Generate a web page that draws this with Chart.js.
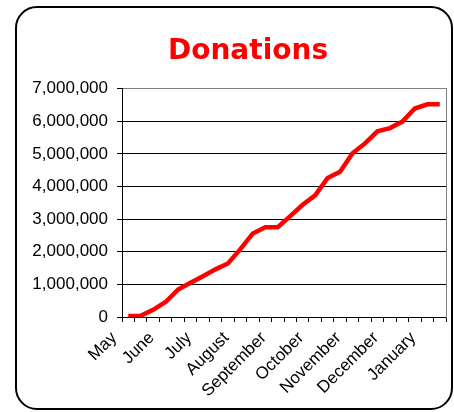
<!DOCTYPE html>
<html>
<head>
<meta charset="utf-8">
<script src="https://cdn.jsdelivr.net/npm/chart.js@4"></script>
<style>
  body { margin: 0; background: #fff; overflow: hidden; }
  #frame {
    position: absolute; left: 15px; top: 6px; width: 438px; height: 404px;
    box-sizing: border-box; border: 2px solid #000; border-radius: 22px;
  }
  #chart { position: absolute; left: 0; top: 0; }
</style>
</head>
<body>
<div id="frame"></div>
<canvas id="chart" width="464" height="412"></canvas>
<script>
// month names shown on every third category
const months = ['May', 'June', 'July', 'August', 'September', 'October', 'November', 'December', 'January'];
const labelEvery = 3;

// running total of donations, one value per category
const donations = [
  30000, 40000, 220000, 460000, 840000, 1050000, 1250000, 1460000, 1640000,
  2080000, 2560000, 2750000, 2750000, 3090000, 3440000, 3730000, 4260000,
  4450000, 5020000, 5320000, 5690000, 5790000, 5990000, 6390000, 6520000, 6520000,
];

const yTicks = [0, 1000000, 2000000, 3000000, 4000000, 5000000, 6000000, 7000000];

const labels = donations.map((v, i) => (i % labelEvery === 0 ? months[i / labelEvery] || '' : ''));

const tickFont = { family: '"Liberation Sans", Arial, sans-serif', size: 17 };

new Chart(document.getElementById('chart'), {
  type: 'line',
  data: {
    labels: labels,
    datasets: [{
      label: 'Donations',
      data: donations,
      borderColor: '#ff0000',
      borderWidth: 4.5,
      tension: 0,
      pointRadius: 0,
      fill: false,
    }],
  },
  options: {
    responsive: false,
    animation: false,
    layout: { padding: { left: 32, right: 0, top: 0, bottom: 0 } },
    plugins: {
      legend: { display: false },
      tooltip: { enabled: false },
      title: {
        display: true,
        text: 'Donations',
        color: '#ff0000',
        font: { family: '"DejaVu Sans", Verdana, sans-serif', size: 28, weight: 'bold' },
        padding: { top: 35, bottom: 20 },
      },
    },
    scales: {
      x: {
        offset: true,
        grid: {
          display: true,
          offset: true,
          drawOnChartArea: false,
          color: '#000',
          tickLength: 5,
        },
        border: { color: '#000', width: 1 },
        ticks: {
          autoSkip: false,
          minRotation: 45,
          maxRotation: 45,
          color: '#000',
          font: tickFont,
          labelOffset: -14,
          padding: 6,
        },
        afterFit: (scale) => { scale.height = 95; },
      },
      y: {
        min: 0,
        max: 7000000,
        afterBuildTicks: (scale) => { scale.ticks = yTicks.map(v => ({ value: v })); },
        grid: {
          color: (c) => (c.tick && c.tick.value === 7000000 ? '#808080' : '#000'),
          tickColor: '#000',
          tickLength: 5,
        },
        border: { color: '#000', width: 1 },
        ticks: {
          color: '#000',
          font: tickFont,
          padding: 9,
          callback: (v) => Number(v).toLocaleString('en-US'),
        },
        afterFit: (scale) => { scale.width = 90; },
      },
      // grey right edge of the plot area
      yRight: {
        position: 'right',
        min: 0,
        max: 7000000,
        grid: { drawOnChartArea: false, drawTicks: false },
        border: { color: '#808080', width: 1 },
        ticks: { display: false },
        afterFit: (scale) => { scale.width = 18; },
      },
    },
  },
});
</script>
</body>
</html>
